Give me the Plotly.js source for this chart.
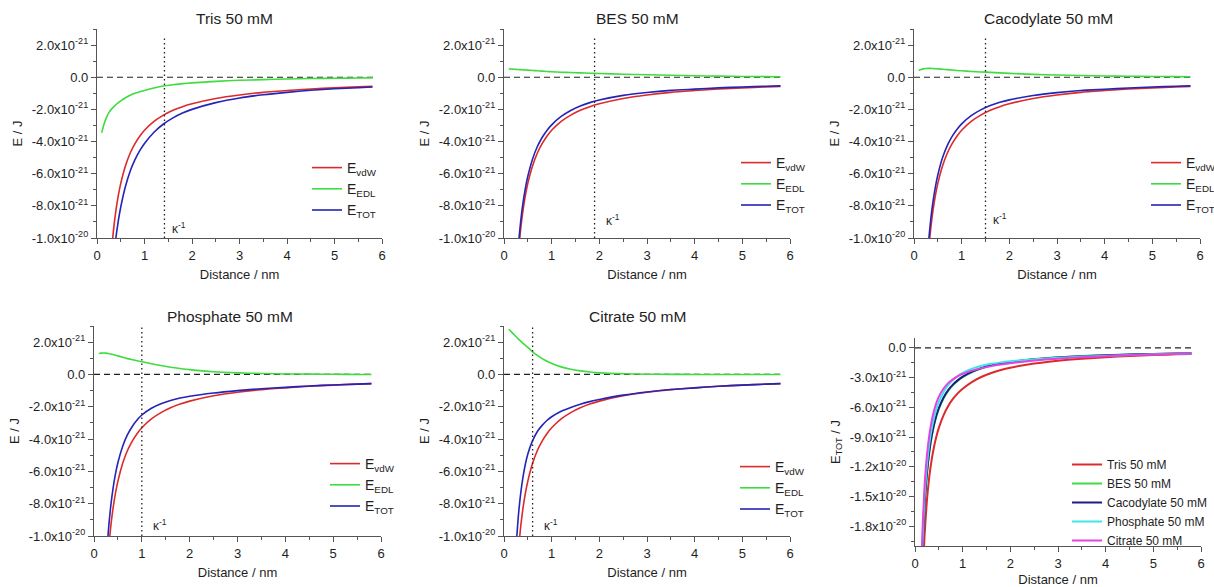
<!DOCTYPE html>
<html><head><meta charset="utf-8">
<script src="https://cdn.plot.ly/plotly-3.0.1.min.js"></script>
<style>html,body{margin:0;padding:0;background:#fff;}#chart{width:1214px;height:587px;}</style>
</head><body><div id="chart"></div>
<script>
// ---------------- DATA (energies in units of 1e-21 J) ----------------
const distance = [0.1, 0.15, 0.2, 0.25, 0.3, 0.35, 0.4, 0.45, 0.5, 0.6, 0.7, 0.8, 0.9, 1.0, 1.2, 1.4, 1.6, 1.8, 2.0, 2.5, 3.0, 3.5, 4.0, 4.5, 5.0, 5.5, 5.8];

const vdwEnergy = [-33, -22, -16.5, -13.2, -11, -9.43, -8.25, -7.33, -6.6, -5.5, -4.71, -4.13, -3.67, -3.3, -2.75, -2.36, -2.06, -1.83, -1.65, -1.32, -1.1, -0.94, -0.83, -0.73, -0.66, -0.6, -0.57];

const trisEDL = [-3.45, -2.9, -2.5, -2.2, -2.0, -1.85, -1.7, -1.58, -1.47, -1.28, -1.12, -1.0, -0.9, -0.82, -0.67, -0.55, -0.47, -0.4, -0.35, -0.26, -0.19, -0.15, -0.11, -0.08, -0.06, -0.05, -0.04];
const trisTOT = [-36.45, -24.9, -19.0, -15.4, -13.0, -11.28, -9.95, -8.91, -8.07, -6.78, -5.83, -5.13, -4.57, -4.12, -3.42, -2.91, -2.53, -2.23, -2.0, -1.58, -1.29, -1.09, -0.94, -0.81, -0.72, -0.65, -0.61];

const besEDL = [0.52, 0.51, 0.50, 0.49, 0.48, 0.47, 0.46, 0.45, 0.44, 0.42, 0.40, 0.38, 0.36, 0.34, 0.31, 0.29, 0.27, 0.25, 0.23, 0.19, 0.15, 0.12, 0.09, 0.07, 0.05, 0.04, 0.03];
const besTOT = [-32.48, -21.49, -16.0, -12.71, -10.52, -8.96, -7.79, -6.88, -6.16, -5.08, -4.31, -3.75, -3.31, -2.96, -2.44, -2.07, -1.79, -1.58, -1.42, -1.13, -0.95, -0.82, -0.74, -0.66, -0.61, -0.56, -0.54];

const cacoEDL = [0.42, 0.48, 0.52, 0.54, 0.55, 0.55, 0.54, 0.53, 0.52, 0.50, 0.47, 0.45, 0.42, 0.40, 0.36, 0.33, 0.30, 0.27, 0.24, 0.18, 0.14, 0.11, 0.08, 0.06, 0.05, 0.04, 0.03];
const cacoTOT = [-32.58, -21.52, -15.98, -12.66, -10.45, -8.88, -7.71, -6.8, -6.08, -5.0, -4.24, -3.68, -3.25, -2.9, -2.39, -2.03, -1.76, -1.56, -1.41, -1.14, -0.96, -0.83, -0.75, -0.67, -0.61, -0.56, -0.54];

const phosEDL = [1.30, 1.32, 1.33, 1.32, 1.30, 1.27, 1.23, 1.19, 1.15, 1.06, 0.98, 0.91, 0.85, 0.79, 0.66, 0.55, 0.45, 0.37, 0.30, 0.17, 0.10, 0.06, 0.03, 0.02, 0.01, 0.0, 0.0];
const phosTOT = [-31.7, -20.68, -15.17, -11.88, -9.7, -8.16, -7.02, -6.14, -5.45, -4.44, -3.73, -3.22, -2.82, -2.51, -2.09, -1.81, -1.61, -1.46, -1.35, -1.15, -1.0, -0.88, -0.8, -0.71, -0.65, -0.6, -0.57];

const citrEDL = [2.80, 2.65, 2.50, 2.35, 2.20, 2.06, 1.92, 1.80, 1.68, 1.40, 1.18, 0.98, 0.82, 0.68, 0.47, 0.32, 0.22, 0.15, 0.10, 0.04, 0.015, 0.005, 0, 0, 0, 0, 0];
const citrTOT = [-30.2, -19.35, -14.0, -10.85, -8.8, -7.37, -6.33, -5.53, -4.92, -4.1, -3.53, -3.15, -2.85, -2.62, -2.28, -2.04, -1.84, -1.68, -1.55, -1.28, -1.085, -0.935, -0.83, -0.73, -0.66, -0.6, -0.57];

const kappaInv = [1.42, 1.9, 1.5, 1.0, 0.6];   // Debye length, nm
const panelTitles = ['Tris 50 mM', 'BES 50 mM', 'Cacodylate 50 mM', 'Phosphate 50 mM', 'Citrate 50 mM'];
const seriesNames = ['E<sub>vdW</sub>', 'E<sub>EDL</sub>', 'E<sub>TOT</sub>'];

const xTickVals = [0, 1, 2, 3, 4, 5, 6];
const yTickVals = [-10, -8, -6, -4, -2, 0, 2];
const yTickText = ['-1.0x10<sup>-20</sup>', '-8.0x10<sup>-21</sup>', '-6.0x10<sup>-21</sup>', '-4.0x10<sup>-21</sup>', '-2.0x10<sup>-21</sup>', '0.0', '2.0x10<sup>-21</sup>'];
const y6TickVals = [-18, -15, -12, -9, -6, -3, 0];
const y6TickText = ['-1.8x10<sup>-20</sup>', '-1.5x10<sup>-20</sup>', '-1.2x10<sup>-20</sup>', '-9.0x10<sup>-21</sup>', '-6.0x10<sup>-21</sup>', '-3.0x10<sup>-21</sup>', '0.0'];

// ---------------- BUILD ----------------
const SCALE = 1e-21;
const J = arr => arr.map(v => v * SCALE);
const FONT = 'Liberation Sans, Arial, sans-serif';
const TXT = '#1e1e1e';
const AX = '#555555';
const RED = '#dc2a2a', GREEN = '#3edc3e', BLUE = '#2424b8';

const panels = [
  {edl: trisEDL, tot: trisTOT},
  {edl: besEDL, tot: besTOT},
  {edl: cacoEDL, tot: cacoTOT},
  {edl: phosEDL, tot: phosTOT},
  {edl: citrEDL, tot: citrTOT}
];

const W = 1214, H = 587;
const px = v => v / W, py = v => 1 - v / H;
// plot-area geometry in pixels [left, right, top, bottom]
const geom = [
  [97, 382, 29, 238], [504, 790, 29, 238], [914, 1200, 29, 238],
  [94, 381, 326, 536], [504, 790, 326, 536], [915, 1201, 338, 546]
];
const titlePos = [[234, 18], [637, 18], [1048, 18], [230, 316], [637, 316]];
const legendPos = [[307, 152], [736, 147], [1146, 147], [325, 448], [735, 451], [1067, 450]];
const kappaLbl = [[0.12, -9.4], [0.2, -8.9], [0.12, -8.8], [0.2, -9.3], [0.2, -9.3]];

const traces = [];
const layout = {
  width: W, height: H,
  margin: {l: 0, r: 0, t: 0, b: 0, autoexpand: false},
  paper_bgcolor: '#fff', plot_bgcolor: '#fff',
  font: {family: FONT, color: TXT, size: 13},
  showlegend: true,
  annotations: [], shapes: []
};

function axisCommon() {
  return {
    showline: true, linecolor: AX, linewidth: 1.3, mirror: false,
    ticks: 'outside', ticklen: 5, tickwidth: 1.2, tickcolor: AX,
    showgrid: false, zeroline: false,
    tickfont: {family: FONT, size: 13, color: TXT},
    fixedrange: true
  };
}

for (let i = 0; i < 6; i++) {
  const n = i === 0 ? '' : String(i + 1);
  const g = geom[i];
  const xa = Object.assign(axisCommon(), {
    domain: [px(g[0]), px(g[1])], anchor: 'y' + n, range: [0, 6],
    tickmode: 'array', tickvals: xTickVals,
    minor: {ticks: 'outside', ticklen: 3, tickwidth: 1, tickcolor: AX, tick0: 0, dtick: 0.5},
    title: {text: 'Distance / nm', font: {family: FONT, size: 13, color: TXT}, standoff: i === 5 ? 11 : 8}
  });
  const ya = Object.assign(axisCommon(), {
    domain: [py(g[3]), py(g[2])], anchor: 'x' + n,
    tickmode: 'array',
    title: {text: i === 5 ? 'E<sub>TOT</sub> / J' : 'E / J', font: {family: FONT, size: 13, color: TXT}, standoff: 6}
  });
  if (i < 5) {
    ya.range = [-10 * SCALE, 3 * SCALE];
    ya.tickvals = J(yTickVals); ya.ticktext = yTickText;
    ya.minor = {ticks: 'outside', ticklen: 3, tickwidth: 1, tickcolor: AX, tick0: 0, dtick: SCALE};
  } else {
    ya.range = [-20 * SCALE, 1 * SCALE];
    ya.tickvals = J(y6TickVals); ya.ticktext = y6TickText;
    ya.minor = {ticks: 'outside', ticklen: 3, tickwidth: 1, tickcolor: AX, tick0: 0, dtick: 1.5 * SCALE};
  }
  layout['xaxis' + n] = xa;
  layout['yaxis' + n] = ya;

  const lg = 'legend' + n;
  layout[lg] = {
    x: px(legendPos[i][0]), y: py(legendPos[i][1]), xanchor: 'left', yanchor: 'top',
    bgcolor: 'rgba(0,0,0,0)', borderwidth: 0,
    font: {family: FONT, size: i === 5 ? 12 : 14, color: TXT},
    itemclick: false, itemdoubleclick: false, tracegroupgap: 0
  };

  // zero dashed line
  layout.shapes.push({type: 'line', xref: 'x' + n, yref: 'y' + n, x0: 0, x1: 5.82, y0: 0, y1: 0,
    line: {color: '#222', width: 1.2, dash: '6px,4px'}, layer: 'below'});

  if (i < 5) {
    const p = panels[i];
    const series = [vdwEnergy, p.edl, p.tot];
    const cols = [RED, GREEN, BLUE];
    for (let s = 0; s < 3; s++) {
      traces.push({
        type: 'scatter', mode: 'lines', x: distance, y: J(series[s]),
        name: seriesNames[s], xaxis: 'x' + n, yaxis: 'y' + n, legend: lg,
        line: {color: cols[s], width: 1.6, shape: 'spline', smoothing: 0.6},
        hoverinfo: 'x+y'
      });
    }
    layout.annotations.push({
      text: panelTitles[i], xref: 'paper', yref: 'paper',
      x: px(titlePos[i][0]), y: py(titlePos[i][1]), xanchor: 'center', yanchor: 'middle',
      showarrow: false, font: {family: FONT, size: 15.5, color: TXT}
    });
    // Debye length dotted line + label
    layout.shapes.push({type: 'line', xref: 'x' + n, yref: 'y' + n,
      x0: kappaInv[i], x1: kappaInv[i], y0: -10 * SCALE, y1: (i < 3 ? 2.5 : 3) * SCALE,
      line: {color: '#222', width: 1.3, dash: '1.5px,3px'}});
    layout.annotations.push({
      text: 'κ<sup>-1</sup>', xref: 'x' + n, yref: 'y' + n,
      x: kappaInv[i] + kappaLbl[i][0], y: kappaLbl[i][1] * SCALE, xanchor: 'left', yanchor: 'middle',
      showarrow: false, font: {family: FONT, size: 12, color: TXT}
    });
  }
}

// summary panel: total energies of all buffers
const sumSeries = [trisTOT, besTOT, cacoTOT, phosTOT, citrTOT];
const sumColors = [RED, GREEN, '#1c1c86', '#3ee6e6', '#e442e4'];
for (let k = 0; k < 5; k++) {
  traces.push({
    type: 'scatter', mode: 'lines', x: distance, y: J(sumSeries[k]),
    name: panelTitles[k], xaxis: 'x6', yaxis: 'y6', legend: 'legend6',
    line: {color: sumColors[k], width: 2, shape: 'spline', smoothing: 0.6},
    hoverinfo: 'x+y'
  });
}

Plotly.newPlot('chart', traces, layout, {displayModeBar: false, staticPlot: false});
</script></body></html>
